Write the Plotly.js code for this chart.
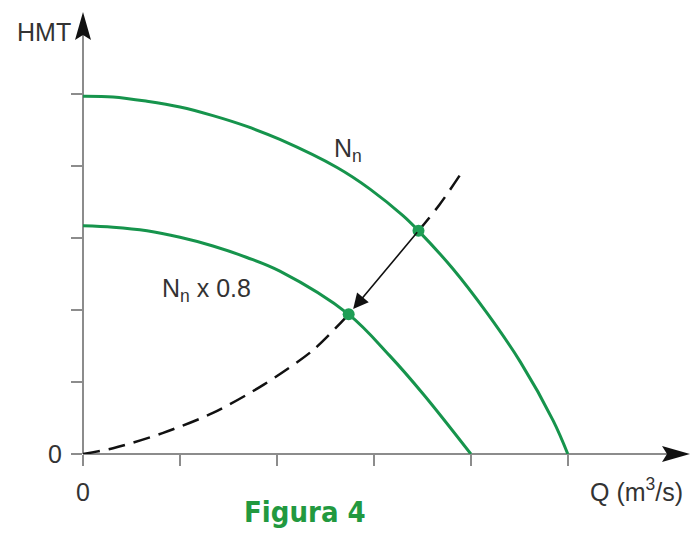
<!DOCTYPE html>
<html>
<head>
<meta charset="utf-8">
<script src="https://cdn.plot.ly/plotly-3.0.1.min.js"></script>
<style>
  html, body { margin: 0; padding: 0; background: #ffffff; }
  #chart { width: 692px; height: 534px; }
</style>
</head>
<body>
<div id="chart"></div>
<script>
// Pump curve at nominal speed Nn (flow Q, head HMT)
const qNominal = [0, 0.31, 0.66, 1.00, 1.34, 1.69, 2.03, 2.62, 2.96, 3.30, 3.46, 3.81, 4.16, 4.51, 4.85, 5.00];
const hNominal = [4.97, 4.96, 4.90, 4.82, 4.70, 4.55, 4.37, 3.98, 3.68, 3.31, 3.10, 2.58, 1.97, 1.28, 0.46, 0];

// Pump curve at reduced speed Nn x 0.8
const qReduced = [0, 0.31, 0.66, 1.00, 1.34, 1.69, 2.03, 2.74, 3.16, 3.51, 4.00];
const hReduced = [3.17, 3.15, 3.10, 3.01, 2.89, 2.73, 2.54, 1.94, 1.37, 0.83, 0];

// System curve, below the reduced-speed operating point
const qSystemLow = [0, 0.31, 0.82, 1.34, 1.86, 2.37, 2.74];
const hSystemLow = [0, 0.08, 0.29, 0.57, 0.96, 1.44, 1.94];

// System curve, above the nominal operating point
const qSystemHigh = [3.46, 3.68, 3.90];
const hSystemHigh = [3.10, 3.47, 3.90];

// Operating points: [nominal, reduced]
const qOperating = [3.46, 2.74];
const hOperating = [3.10, 1.94];

// Axis ticks
const qTicks = [0, 1, 2, 3, 4, 5];
const qTickText = ['0', '', '', '', '', ''];
const hTicks = [0, 1, 2, 3, 4, 5];
const hTickText = ['0', '', '', '', '', ''];

const xMax = 6.26;
const yMax = 6.14;

const W = 692, H = 534;
const margin = { l: 83, r: 2, t: 12, b: 80 };
// plot area size in pixels, used to size the axis arrowheads in paper units
const plotW = W - margin.l - margin.r;
const plotH = H - margin.t - margin.b;

const green = '#16944c';
const axisGray = '#8c8c8c';
const textColor = '#333333';
const font = 'Liberation Sans, Arial, sans-serif';
const labelSize = 25;

// arrowhead outline: length and half-width in pixels, with a shallow notch
const headLen = 28, headHalf = 8, headNotch = 5;
const xHeadPath =
  'M1,0' +
  ' L' + (1 - headLen / plotW) + ',' + (headHalf / plotH) +
  ' L' + (1 - (headLen - headNotch) / plotW) + ',0' +
  ' L' + (1 - headLen / plotW) + ',' + (-headHalf / plotH) + ' Z';
const yHeadPath =
  'M0,1' +
  ' L' + (headHalf / plotW) + ',' + (1 - headLen / plotH) +
  ' L0,' + (1 - (headLen - headNotch) / plotH) +
  ' L' + (-headHalf / plotW) + ',' + (1 - headLen / plotH) + ' Z';

const traces = [
  {
    x: qNominal, y: hNominal, mode: 'lines', type: 'scatter',
    line: { color: green, width: 3, shape: 'spline', smoothing: 1 },
    hoverinfo: 'skip'
  },
  {
    x: qReduced, y: hReduced, mode: 'lines', type: 'scatter',
    line: { color: green, width: 3, shape: 'spline', smoothing: 1 },
    hoverinfo: 'skip'
  },
  {
    x: qSystemLow, y: hSystemLow, mode: 'lines', type: 'scatter',
    line: { color: '#111111', width: 2.5, dash: '17px,9px', shape: 'spline', smoothing: 0.8 },
    hoverinfo: 'skip'
  },
  {
    x: qSystemHigh, y: hSystemHigh, mode: 'lines', type: 'scatter',
    line: { color: '#111111', width: 2.5, dash: '17px,9px', shape: 'spline' },
    hoverinfo: 'skip'
  },
  {
    x: qOperating, y: hOperating, mode: 'markers', type: 'scatter',
    marker: { color: '#1f9e55', size: 12 },
    hoverinfo: 'skip'
  }
];

const layout = {
  width: W,
  height: H,
  margin: margin,
  paper_bgcolor: '#ffffff',
  plot_bgcolor: '#ffffff',
  showlegend: false,
  font: { family: font, color: textColor, size: labelSize },
  xaxis: {
    range: [0, xMax],
    showgrid: false, zeroline: false, showline: false,
    tickmode: 'array', tickvals: qTicks, ticktext: qTickText,
    ticks: 'outside', ticklen: 11, tickwidth: 2, tickcolor: axisGray,
    ticklabelstandoff: 5,
    tickfont: { family: font, size: labelSize, color: textColor },
    fixedrange: true
  },
  yaxis: {
    range: [0, yMax],
    showgrid: false, zeroline: false, showline: false,
    tickmode: 'array', tickvals: hTicks, ticktext: hTickText,
    ticks: 'outside', ticklen: 11, tickwidth: 2, tickcolor: axisGray,
    ticklabelstandoff: 4,
    tickfont: { family: font, size: labelSize, color: textColor },
    fixedrange: true
  },
  shapes: [
    // axis lines (paper-referenced so they are not clipped at the plot edge)
    { type: 'line', xref: 'paper', yref: 'paper', x0: 0, x1: 1 - 20 / plotW, y0: 0, y1: 0,
      line: { color: axisGray, width: 2 }, layer: 'below' },
    { type: 'line', xref: 'paper', yref: 'paper', x0: 0, x1: 0, y0: 0, y1: 1 - 20 / plotH,
      line: { color: axisGray, width: 2 }, layer: 'below' },
    // axis arrowheads
    { type: 'path', xref: 'paper', yref: 'paper', path: xHeadPath,
      fillcolor: '#111111', line: { width: 0 } },
    { type: 'path', xref: 'paper', yref: 'paper', path: yHeadPath,
      fillcolor: '#111111', line: { width: 0 } }
  ],
  annotations: [
    // speed reduction arrow along the system curve
    { x: qOperating[1], y: hOperating[1], ax: qOperating[0], ay: hOperating[0],
      xref: 'x', yref: 'y', axref: 'x', ayref: 'y',
      showarrow: true, arrowhead: 2, arrowsize: 1.9, arrowwidth: 1.6,
      arrowcolor: '#111111', standoff: 7, text: '' },
    { x: 0, y: 5.86, xref: 'x', yref: 'y', xanchor: 'right', xshift: -10,
      text: 'HMT', showarrow: false, font: { family: font, size: labelSize, color: textColor } },
    { x: 5.71, y: 0, xref: 'x', yref: 'y', yshift: -36,
      text: 'Q (m<sup>3</sup>/s)', showarrow: false,
      font: { family: font, size: labelSize, color: textColor } },
    { x: 2.73, y: 4.22, xref: 'x', yref: 'y',
      text: 'N<sub>n</sub>', showarrow: false,
      font: { family: font, size: labelSize, color: textColor } },
    { x: 1.27, y: 2.28, xref: 'x', yref: 'y',
      text: 'N<sub>n</sub> x 0.8', showarrow: false,
      font: { family: font, size: labelSize, color: textColor } },
    { x: 2.29, y: 0, xref: 'x', yref: 'y', yshift: -58,
      text: '<b>Figura 4</b>', showarrow: false,
      font: { family: 'DejaVu Sans Condensed, Liberation Sans Narrow, sans-serif', size: 29, color: '#22993f' } }
  ]
};

Plotly.newPlot('chart', traces, layout, { staticPlot: true, displayModeBar: false });
</script>
</body>
</html>
